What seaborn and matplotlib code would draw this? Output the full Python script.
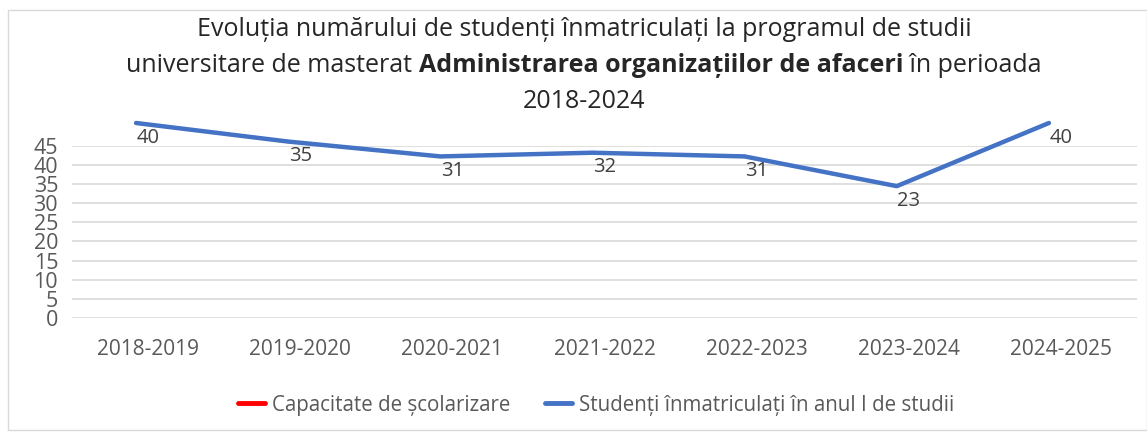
import matplotlib
matplotlib.use("Agg")
import matplotlib.pyplot as plt
import seaborn as sns
import pandas as pd
from matplotlib.patches import Rectangle
from matplotlib.lines import Line2D

# data
ani = ["2018-2019", "2019-2020", "2020-2021", "2021-2022", "2022-2023", "2023-2024", "2024-2025"]
inmatriculati = [40, 35, 31, 32, 31, 23, 40]
y_ticks = [0, 5, 10, 15, 20, 25, 30, 35, 40, 45]

title_1 = "Evoluția numărului de studenți înmatriculați la programul de studii"
title_2a = "universitare de masterat "
title_2b = "Administrarea organizațiilor de afaceri"
title_2c = " în perioada"
title_3 = "2018-2024"

sns.set_style("white")
plt.rcParams["font.family"] = ["Open Sans", "DejaVu Sans"]

W, H = 1147, 434
fig = plt.figure(figsize=(W / 100, H / 100), dpi=100)

def box(x0, y0, x1, y1):
    # pixel box -> figure fraction rect
    return [x0 / W, 1 - y1 / H, (x1 - x0) / W, (y1 - y0) / H]

# primary axis (grid + ticks)
ax = fig.add_axes(box(72, 145.7, 1137, 318))
ax.set_xlim(-0.5, 6.5)
ax.set_ylim(0, 45)
ax.set_yticks(y_ticks)
ax.set_xticks(range(len(ani)))
ax.set_xticklabels(ani)
ax.grid(axis="y", color="#d9d9d9", lw=1.2)
ax.set_axisbelow(True)
for s in ax.spines.values():
    s.set_visible(False)
ax.tick_params(axis="y", labelsize=15.5, length=0, pad=10)
ax.tick_params(axis="x", labelsize=15, length=0, pad=15)
for lab in ax.get_yticklabels() + ax.get_xticklabels():
    lab.set_color("#595959")

# secondary (hidden) axis for the line, Excel-style
ax2 = fig.add_axes(box(60, 110, 1125, 318))
ax2.set_xlim(-0.5, 6.5)
ax2.set_ylim(-12.5, 43.5)
ax2.axis("off")
df = pd.DataFrame({"an": ani, "n": inmatriculati})
sns.lineplot(data=df, x="an", y="n", ax=ax2, color="#4472C4", lw=3.2, sort=False)

for i, v in enumerate(inmatriculati):
    ax2.annotate(str(v), (i, v), xytext=(8.6, -10.5), textcoords="offset points",
                 ha="center", va="center", fontsize=14.5, color="#404040")

# title
tkw = dict(fontsize=18, color="#262626", va="center")
fig.text(584 / W, 1 - 30 / H, title_1, ha="center", **tkw)
fig.text(584 / W, 1 - 101 / H, title_3, ha="center", **tkw)
fig.canvas.draw()
r = fig.canvas.get_renderer()
parts = [(title_2a, "normal"), (title_2b, "bold"), (title_2c, "normal")]
txts = [fig.text(0, 1 - 66 / H, t, ha="left", fontweight=w, **tkw) for t, w in parts]
widths = [t.get_window_extent(r).width for t in txts]
x = 584 - sum(widths) / 2
for t, wd in zip(txts, widths):
    t.set_x(x / W)
    x += wd

# legend
handles = [Line2D([], [], color="#ff0000", lw=3.5),
           Line2D([], [], color="#4472C4", lw=3.5)]
fig.legend(handles, ["Capacitate de școlarizare", "Studenți înmatriculați în anul I de studii"],
           loc="center", bbox_to_anchor=(596 / W, 1 - 405 / H), ncol=2, frameon=False,
           fontsize=14.8, handlelength=1.3, handletextpad=0.35, columnspacing=1.7,
           labelcolor="#595959")

# outer chart border
fig.patches.append(Rectangle((8 / W, 4 / H), 1 - 8 / W, 1 - 14 / H, transform=fig.transFigure,
                             fill=False, ec="#d9d9d9", lw=1))

fig.savefig("out.png", dpi=100)
